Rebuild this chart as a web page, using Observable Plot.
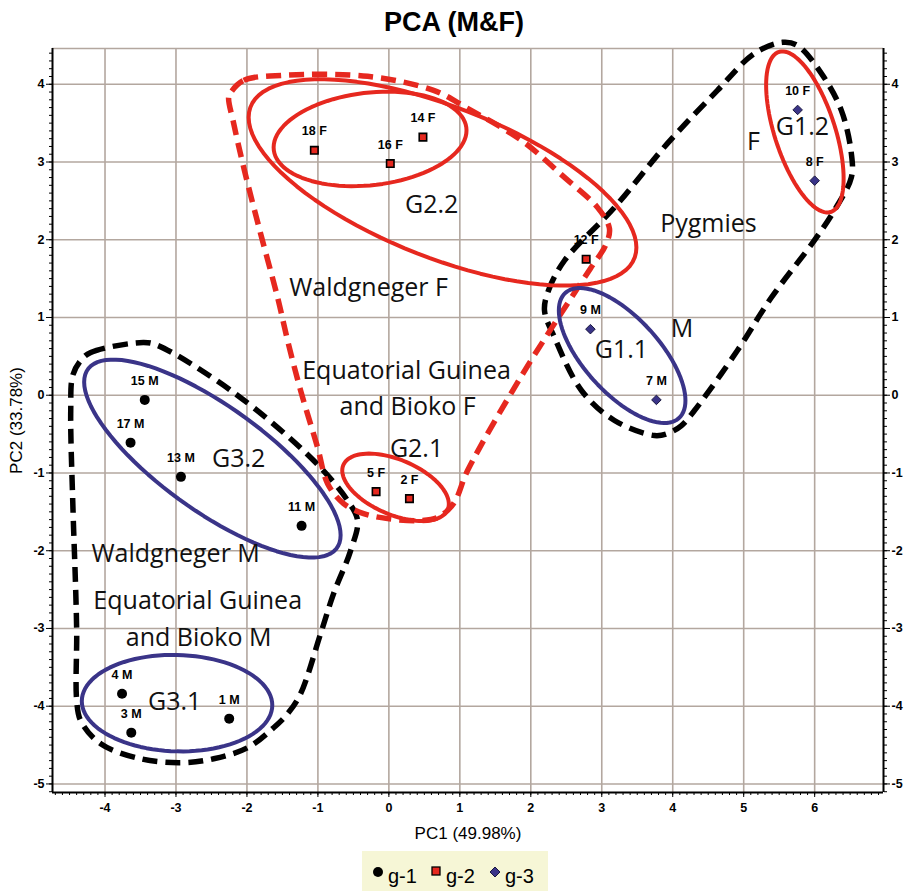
<!DOCTYPE html>
<html><head><meta charset="utf-8">
<script src="https://cdn.jsdelivr.net/npm/d3@7"></script>
<script src="https://cdn.jsdelivr.net/npm/@observablehq/plot@0.6"></script>
<style>
body{margin:0;background:#fff;}
#wrap{position:relative;width:908px;height:891px;overflow:hidden;background:#fff;}
#legend{position:absolute;left:362px;top:851px;}
</style></head><body>
<div id="wrap"><div id="chart"></div><div id="legend"></div></div>
<script>
// ---- data: samples ----
const sampleIds = ["1 M","2 F","3 M","4 M","5 F","7 M","8 F","9 M","10 F","11 M","12 F","13 M","14 F","15 M","16 F","17 M","18 F"];
const sampleGroup = ["g-1","g-2","g-1","g-1","g-2","g-3","g-3","g-3","g-3","g-1","g-2","g-1","g-2","g-1","g-2","g-1","g-2"];
const pc1 = [-2.25, 0.29, -3.63, -3.76, -0.18, 3.77, 6.00, 2.84, 5.76, -1.23, 2.78, -2.93, 0.48, -3.44, 0.02, -3.64, -1.05];
const pc2 = [-4.16, -1.33, -4.34, -3.84, -1.24, -0.06, 2.76, 0.85, 3.67, -1.68, 1.75, -1.05, 3.32, -0.06, 2.98, -0.61, 3.15];

// ---- axes ----
const xTicks = [-4,-3,-2,-1,0,1,2,3,4,5,6];
const yTicks = [-5,-4,-3,-2,-1,0,1,2,3,4];
const xDomain = [-4.74, 6.97];
const yDomain = [-5.11, 4.46];
const titleText = "PCA (M&F)";
const xLabel = "PC1 (49.98%)";
const yLabel = "PC2 (33.78%)";

// ---- legend ----
const groupNames = ["g-1","g-2","g-3"];
const groupColors = ["#000000","#e6281f","#3a3488"];

// ---- ellipses (center, half-diameter to rightmost point, half vertical chord) ----
const ellipseNames = ["G2.2 inner","G2.2 outer","G1.2","G2.1","G3.2","G3.1","G1.1"];
const ellipseCx = [-0.265, 0.756, 5.862, 0.094, -2.487, -2.985, 3.287];
const ellipseCy = [3.297, 2.737, 3.387, -1.184, -0.815, -3.961, 0.511];
const ellipseUx = [1.359, 2.732, 0.546, 0.751, 1.807, 1.342, 0.892];
const ellipseUy = [0.109, -0.837, -0.601, -0.215, -0.985, -0.026, -0.579];
const ellipseV  = [0.598, 1.03, 0.844, 0.376, 0.807, 0.620, 0.647];
const ellipseColor = ["red","red","red","red","navy","navy","navy"];

// ---- dashed hulls ----
const pygmiesHullX = [2.193,2.249,2.475,3.179,3.926,4.630,5.151,5.545,5.756,6.094,6.376,6.517,6.517,6.277,5.996,5.390,4.911,4.306,4.123,3.926,3.742,3.179,2.714,2.334];
const pygmiesHullY = [1.090,1.347,1.733,2.415,3.239,3.921,4.397,4.539,4.500,4.140,3.664,3.110,2.802,2.377,1.991,1.257,0.575,-0.197,-0.390,-0.493,-0.518,-0.325,0.061,0.743];
const femaleHullX = [-2.227,-2.046,-1.483,-0.300,0.630,1.109,1.869,2.475,2.939,3.108,3.052,2.841,2.545,1.855,1.109,0.911,0.686,0.446,-0.018,-0.356,-0.638,-0.863,-1.004,-1.244,-1.427,-1.568,-1.808,-2.046,-2.187,-2.258];
const femaleHullY = [3.896,4.050,4.115,4.102,3.922,3.690,3.278,2.802,2.416,2.145,1.927,1.631,1.219,0.228,-0.969,-1.394,-1.574,-1.612,-1.587,-1.523,-1.394,-1.137,-0.673,0.061,0.704,1.258,2.081,2.931,3.497,3.831];
const maleHullX = [-4.342,-4.201,-3.454,-3.257,-2.187,-1.060,-0.582,-0.441,-0.539,-0.779,-0.962,-1.244,-1.427,-1.624,-1.990,-2.469,-2.934,-3.497,-4.061,-4.342,-4.399,-4.399,-4.413,-4.455,-4.483,-4.455];
const maleHullY = [0.447,0.550,0.678,0.640,0.035,-0.840,-1.355,-1.612,-1.998,-2.552,-3.067,-3.839,-4.097,-4.277,-4.534,-4.676,-4.727,-4.676,-4.483,-4.187,-3.929,-3.067,-2.513,-1.355,-0.197,0.254];

// ---- annotations ----
const noteText = ["G2.2","Waldgneger F","Equatorial Guinea","and Bioko F","G2.1","G3.2","Waldgneger M","Equatorial Guinea","and Bioko M","G3.1","G1.1","M","Pygmies","F","G1.2"];
const noteX = [0.604,-0.286,0.249,0.263,0.390,-2.117,-3.004,-2.694,-2.680,-3.018,3.277,4.132,4.503,5.137,5.827];
const noteY = [2.442,1.373,0.318,-0.145,-0.686,-0.815,-2.038,-2.643,-3.119,-3.942,0.588,0.858,2.197,3.252,3.445];

// ---- build tables ----
const RED = "#e6281f", NAVY = "#3a3488", GRID = "#b3a79f";
const points = sampleIds.map((id, i) => ({id, group: sampleGroup[i], x: pc1[i], y: pc2[i]}));
const ellipsePts = ellipseNames.flatMap((name, k) => d3.range(0, 97).map(i => {
  const t = 2 * Math.PI * i / 96;
  return {name, color: ellipseColor[k],
    x: ellipseCx[k] + ellipseUx[k] * Math.cos(t),
    y: ellipseCy[k] + ellipseUy[k] * Math.cos(t) + ellipseV[k] * Math.sin(t)};
}));
const hull = (xs, ys) => xs.map((x, i) => ({x, y: ys[i]}));
const notes = noteText.map((text, i) => ({text, x: noteX[i], y: noteY[i]}));
const minorX = d3.range(Math.ceil(xDomain[0]*10), Math.floor(xDomain[1]*10)+1).map(i => i/10);
const minorY = d3.range(Math.ceil(yDomain[0]*10), Math.floor(yDomain[1]*10)+1).map(i => i/10);
const fmt = d => String(d);
const dashed = {curve: "catmull-rom-closed", strokeWidth: 5.5, strokeDasharray: "15,8", strokeLinecap: "butt"};

const chart = Plot.plot({
  width: 908, height: 891,
  marginTop: 48, marginLeft: 52, marginRight: 25, marginBottom: 99,
  x: {domain: xDomain},
  y: {domain: yDomain},
  style: {background: "white", fontFamily: "'Liberation Sans', Arial, sans-serif", color: "black"},
  marks: [
    Plot.gridX({ticks: xTicks, stroke: GRID, strokeOpacity: 1, strokeWidth: 1.6}),
    Plot.gridY({ticks: yTicks, stroke: GRID, strokeOpacity: 1, strokeWidth: 1.6}),
    Plot.ruleY([yDomain[1]], {stroke: GRID, strokeWidth: 1.6}),
    Plot.ruleX([xDomain[0], xDomain[1]], {stroke: "black", strokeWidth: 2}),
    Plot.ruleY([yDomain[0]], {stroke: "black", strokeWidth: 2}),
    Plot.axisX({ticks: minorX, tickSize: 3, tickFormat: () => "", label: null}),
    Plot.axisX({ticks: xTicks, tickSize: 5, tickPadding: 6, tickFormat: fmt, fontWeight: "bold", fontSize: 12.5, label: null}),
    Plot.axisY({ticks: minorY, anchor: "left", tickSize: 3, tickFormat: () => "", label: null}),
    Plot.axisY({ticks: yTicks, anchor: "left", tickSize: 6, tickPadding: 2, tickFormat: fmt, fontWeight: "bold", fontSize: 12.5, label: null}),
    Plot.axisY({ticks: minorY, anchor: "right", tickSize: 3, tickFormat: () => "", label: null}),
    Plot.axisY({ticks: yTicks, anchor: "right", tickSize: 6, tickPadding: 2, tickFormat: fmt, fontWeight: "bold", fontSize: 12.5, label: null}),
    // dashed hulls
    Plot.line(hull(maleHullX, maleHullY), {x: "x", y: "y", stroke: "black", ...dashed}),
    Plot.line(hull(pygmiesHullX, pygmiesHullY), {x: "x", y: "y", stroke: "black", ...dashed}),
    Plot.line(hull(femaleHullX, femaleHullY), {x: "x", y: "y", stroke: RED, ...dashed}),
    // ellipses
    Plot.line(ellipsePts.filter(d => d.color === "red"), {x: "x", y: "y", z: "name", stroke: RED, strokeWidth: 4}),
    Plot.line(ellipsePts.filter(d => d.color === "navy"), {x: "x", y: "y", z: "name", stroke: NAVY, strokeWidth: 4}),
    // points
    Plot.dot(points.filter(d => d.group === "g-1"), {x: "x", y: "y", r: 5, fill: "black"}),
    Plot.dot(points.filter(d => d.group === "g-2"), {x: "x", y: "y", symbol: "square", r: 4.2, fill: RED, stroke: "black", strokeWidth: 1.6}),
    Plot.dot(points.filter(d => d.group === "g-3"), {x: "x", y: "y", symbol: "diamond2", r: 4.3, fill: NAVY, stroke: "#1a1840", strokeWidth: 1}),
    Plot.text(points, {x: "x", y: "y", text: "id", dy: -19, fontWeight: "bold", fontSize: 12.5, fill: "black"}),
    // annotations
    Plot.text(notes, {x: "x", y: "y", text: "text", fontSize: 25, fontFamily: "'Open Sans', sans-serif", fill: "#111"}),
    // titles
    Plot.text([titleText], {frameAnchor: "top", lineAnchor: "middle", textAnchor: "middle", dy: -26, dx: -14, fontSize: 27, fontWeight: "bold", letterSpacing: "1.6px"}),
    Plot.text([xLabel], {frameAnchor: "bottom", lineAnchor: "middle", textAnchor: "middle", dy: 41, fontSize: 17}),
    Plot.text([yLabel], {frameAnchor: "left", lineAnchor: "middle", textAnchor: "middle", dx: -36, rotate: -90, fontSize: 17})
  ]
});
document.getElementById("chart").append(chart);

// legend
const lg = d3.select("#legend").append("svg").attr("width", 186).attr("height", 40);
lg.append("rect").attr("width", 186).attr("height", 40).attr("fill", "#f6f6d6");
const symX = [16, 74, 133];
groupNames.forEach((g, i) => {
  const cx = symX[i], cy = 21;
  if (i === 0) lg.append("circle").attr("cx", cx).attr("cy", cy).attr("r", 5).attr("fill", groupColors[i]);
  else if (i === 1) lg.append("rect").attr("x", cx - 4).attr("y", cy - 5).attr("width", 8).attr("height", 8).attr("fill", groupColors[i]).attr("stroke", "black").attr("stroke-width", 1.3);
  else lg.append("path").attr("d", `M${cx},${cy-5}L${cx+5},${cy}L${cx},${cy+5}L${cx-5},${cy}Z`).attr("fill", groupColors[i]).attr("stroke", "#1a1840");
  lg.append("text").attr("x", cx + 10).attr("y", 32).attr("font-family", "'Liberation Sans', Arial, sans-serif").attr("font-size", 20).attr("fill", "black").text(g);
});
</script>
</body></html>
